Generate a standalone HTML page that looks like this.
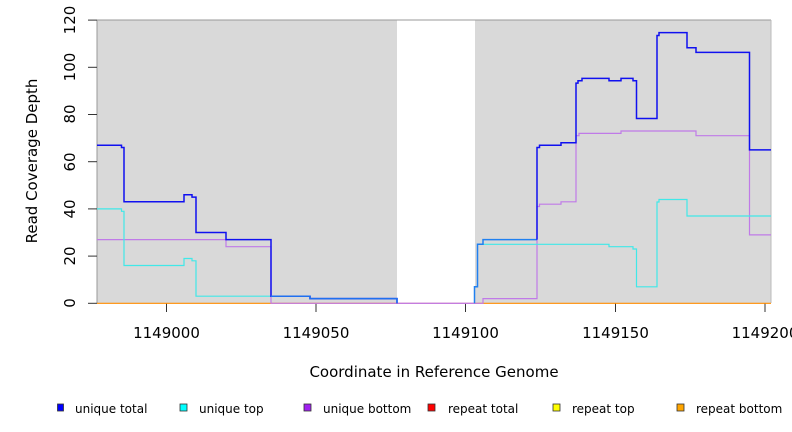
<!DOCTYPE html>
<html><head><style>body{margin:0;background:#fff}svg{display:block}</style></head><body>
<svg width="792" height="432" xmlns="http://www.w3.org/2000/svg" font-family="DejaVu Sans, Liberation Sans, sans-serif">
<rect x="97" y="20" width="300" height="283" fill="#d9d9d9"/>
<rect x="475" y="20" width="296" height="283" fill="#d9d9d9"/>
<line x1="97" y1="20" x2="771" y2="20" stroke="#999" stroke-width="1"/>
<line x1="97" y1="20" x2="97" y2="303" stroke="#999"/>
<line x1="771" y1="20" x2="771" y2="303" stroke="#bbb"/>
<g stroke="#333" stroke-width="1">
<line x1="88" y1="303.3" x2="97" y2="303.3"/><line x1="88" y1="256.1" x2="97" y2="256.1"/><line x1="88" y1="208.9" x2="97" y2="208.9"/><line x1="88" y1="161.7" x2="97" y2="161.7"/><line x1="88" y1="114.5" x2="97" y2="114.5"/><line x1="88" y1="67.3" x2="97" y2="67.3"/><line x1="88" y1="20.1" x2="97" y2="20.1"/>
<line x1="166.5" y1="303" x2="166.5" y2="312"/><line x1="316" y1="303" x2="316" y2="312"/><line x1="465.5" y1="303" x2="465.5" y2="312"/><line x1="615.5" y1="303" x2="615.5" y2="312"/><line x1="765" y1="303" x2="765" y2="312"/>
</g>
<g font-size="15" fill="#000" text-anchor="middle">
<text transform="translate(75,303) rotate(-90)">0</text>
<text transform="translate(75,256) rotate(-90)">20</text>
<text transform="translate(75,209) rotate(-90)">40</text>
<text transform="translate(75,162) rotate(-90)">60</text>
<text transform="translate(75,114) rotate(-90)">80</text>
<text transform="translate(75,67) rotate(-90)">100</text>
<text transform="translate(75,20) rotate(-90)">120</text>
<text transform="translate(37,161) rotate(-90)">Read Coverage Depth</text>
<text x="166.5" y="338">1149000</text>
<text x="316" y="338">1149050</text>
<text x="465.5" y="338">1149100</text>
<text x="615.5" y="338">1149150</text>
<text x="765" y="338">1149200</text>
<text x="434" y="377">Coordinate in Reference Genome</text>
</g>
<g fill="none" stroke-width="1.2">
<polyline stroke="#ff8c00" points="97,303.3 397,303.3"/>
<polyline stroke="#ff8c00" points="475,303.3 771,303.3"/>
<polyline stroke="#d06080" points="397,303.3 475,303.3"/>
<polyline stroke="#c07ae8" points="97,239.6 226,239.6 226,246.7 271,246.7 271,303.3 397,303.3 475,303.3 483,303.3 483,298.6 537,298.6 537,206.5 539.5,206.5 539.5,204.2 561,204.2 561,201.8 576,201.8 576,135.7 579,135.7 579,133.4 621,133.4 621,131 696,131 696,135.7 749.5,135.7 749.5,234.9 771,234.9"/>
<polyline stroke="#40e8e8" points="97,208.9 121.5,208.9 121.5,211.3 124,211.3 124,265.5 184,265.5 184,258.5 192,258.5 192,260.8 196,260.8 196,296.2 271,296.2"/>
<polyline stroke="#40e8e8" points="483,244.3 609,244.3 609,246.7 633,246.7 633,249 636.5,249 636.5,286.8 657,286.8 657,202 659,202 659,199.5 687,199.5 687,216 771,216"/>
<polyline stroke="#1010f0" stroke-width="1.5" points="97,145.2 121.5,145.2 121.5,147.5 124,147.5 124,201.8 184,201.8 184,194.7 192,194.7 192,197.1 196,197.1 196,232.5 226,232.5 226,239.6 271,239.6 271,296.2 310,296.2 310,298.6 397,298.6 397,303.3"/>
<polyline stroke="#2070f0" stroke-width="1.5" points="271,296.2 310,296.2 310,298.6 397,298.6 397,303.3"/>
<polyline stroke="#2080f0" stroke-width="1.5" points="474.5,303.3 474.5,286.8 477.5,286.8 477.5,244.3 483,244.3 483,239.6 537,239.6"/>
<polyline stroke="#1010f0" stroke-width="1.5" points="537,239.6 537,147.5 539.5,147.5 539.5,145.2 561,145.2 561,142.8 576,142.8 576,83.1 578,83.1 578,80.7 582,80.7 582,78.4 609,78.4 609,80.7 621,80.7 621,78.4 633,78.4 633,80.7 636.5,80.7 636.5,118.5 657,118.5 657,35.5 659,35.5 659,32.6 687,32.6 687,47.7 696,47.7 696,52.4 749.5,52.4 749.5,149.9 771,149.9"/>
</g>
<g font-size="12" fill="#000">
<rect x="57.5" y="404" width="6" height="7" fill="#0000ff" stroke="#333" stroke-width="0.8"/><text x="75" y="413">unique total</text>
<rect x="180" y="404" width="7" height="7" fill="#00ffff" stroke="#333" stroke-width="0.8"/><text x="199" y="413">unique top</text>
<rect x="304" y="404" width="7" height="7" fill="#a020f0" stroke="#333" stroke-width="0.8"/><text x="323" y="413">unique bottom</text>
<rect x="428" y="404" width="7" height="7" fill="#ff0000" stroke="#333" stroke-width="0.8"/><text x="448" y="413">repeat total</text>
<rect x="553" y="404" width="7" height="7" fill="#ffff00" stroke="#333" stroke-width="0.8"/><text x="572" y="413">repeat top</text>
<rect x="677" y="404" width="7" height="7" fill="#ffa500" stroke="#333" stroke-width="0.8"/><text x="696" y="413">repeat bottom</text>
</g>
</svg>
</body></html>
